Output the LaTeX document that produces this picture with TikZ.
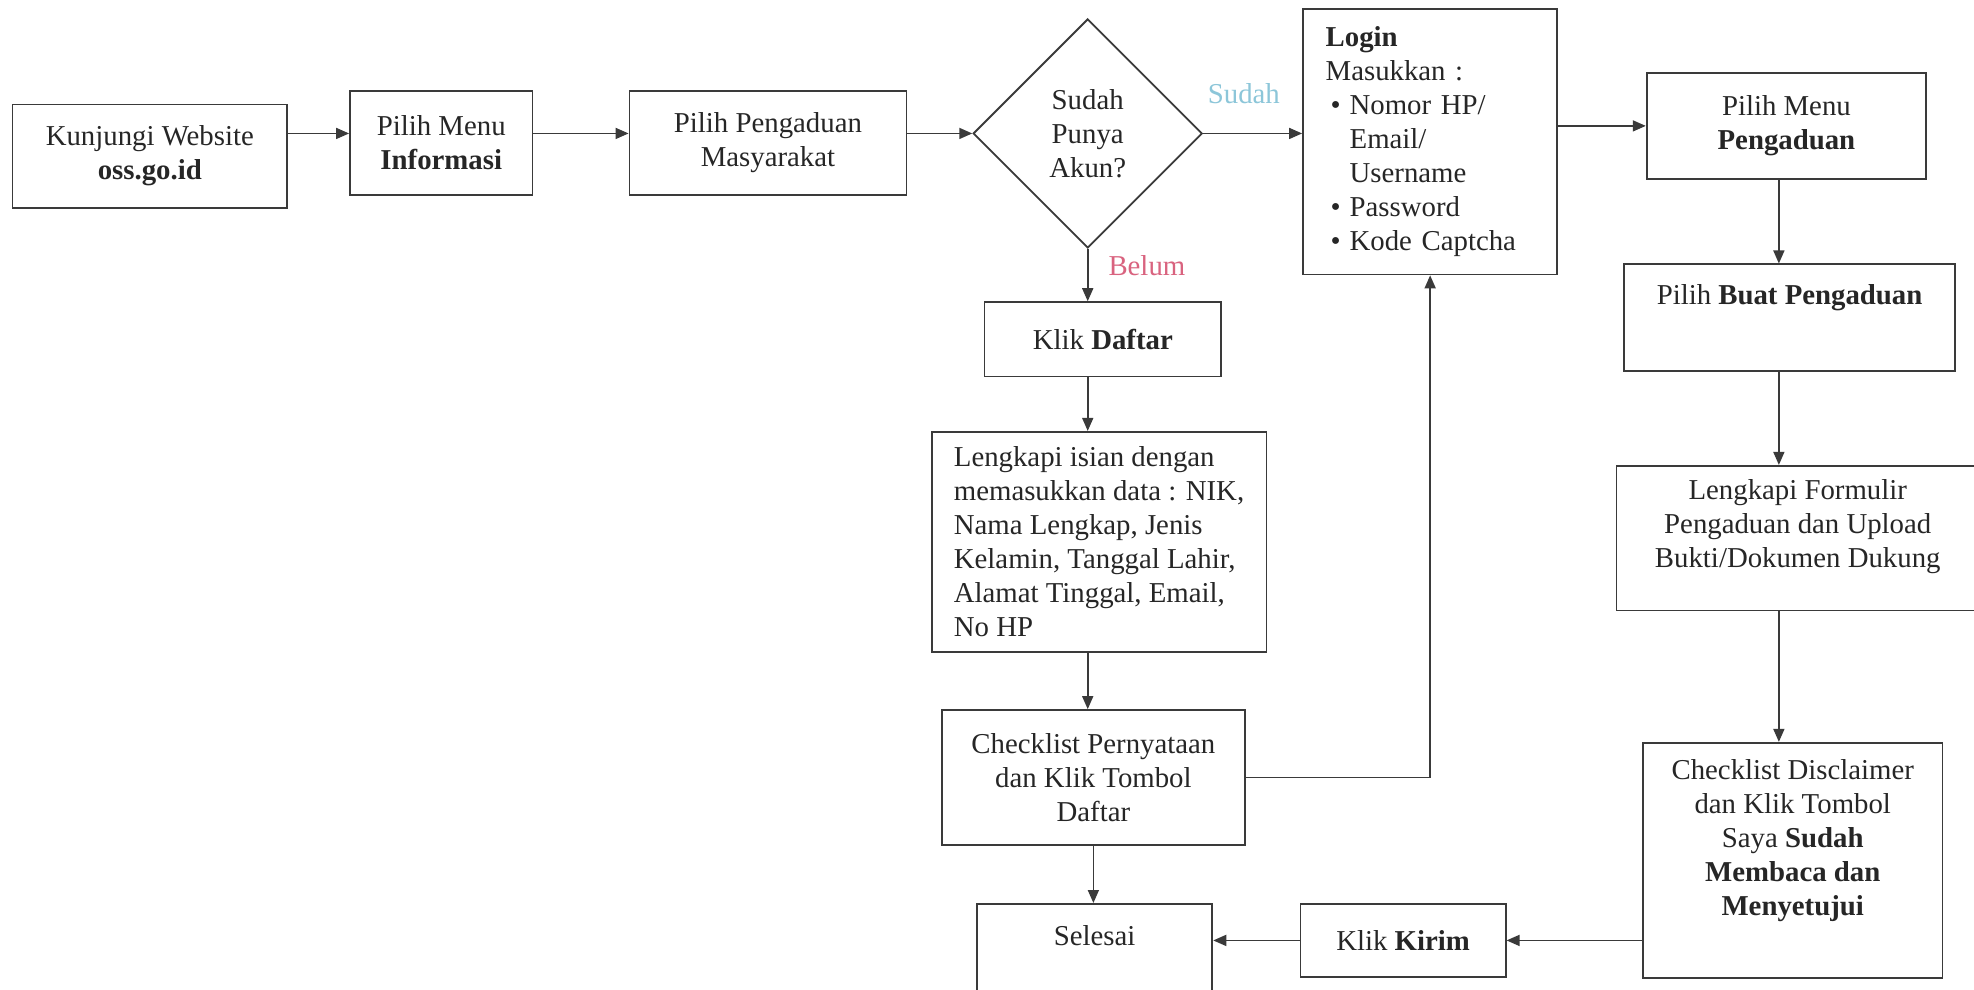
\documentclass[tikz,border=0pt]{standalone}
\usepackage{fontspec}
\setmainfont{Liberation Serif}
\usetikzlibrary{arrows.meta,shapes.geometric}
\definecolor{ln}{HTML}{3A3A3A}
\definecolor{txt}{HTML}{262626}
\definecolor{sudahc}{HTML}{8CC6D9}
\definecolor{belumc}{HTML}{D9637F}
\def\U{0.6295pt}
\newcommand\bul{\hspace*{2.5pt}\makebox[9.5pt][l]{\textbullet}}
\newcommand\bsp{\hspace*{12pt}}
\begin{document}
\begin{tikzpicture}[x=0.6295pt,y=-0.6295pt,
  every node/.style={font=\fontsize{14.4}{17}\selectfont, text=txt},
  box/.style={draw=ln, line width=0.9pt, align=center, inner sep=2pt},
  bx/.style 2 args={box, minimum width=#1*\U, minimum height=#2*\U},
  arr/.style={draw=ln, line width=0.8pt, -{Triangle[length=6.5pt,width=5.5pt]}}]
\fill[white] (0,0) rectangle (1568,785.6);
\useasboundingbox (0,0) rectangle (1568,785.6);

% top row
\node[bx={218}{82}] (n1) at (119,124) {Kunjungi Website\\\textbf{oss.go.id}};
\node[bx={145}{83}] (n2) at (350.5,113.5) {Pilih Menu\\\textbf{Informasi}};
\node[bx={220}{83}] (n3) at (610,113.5) {Pilih Pengaduan\\Masyarakat};
\node[draw=ln, line width=0.9pt, diamond, aspect=1, minimum width=182*\U,
      minimum height=182*\U, inner sep=0pt, align=center] (d) at (864,106)
      {Sudah\\Punya\\Akun?};
\node[box, align=left, minimum width=202*\U, minimum height=211*\U,
      text width=104.5pt, inner xsep=11.3pt] (login) at (1136,112.5)
      {\textbf{Login}\\Masukkan :\\\bul Nomor HP/\\\bsp Email/\\\bsp Username\\\bul Password\\\bul Kode Captcha};
\node[bx={222}{84}] (pmp) at (1419,100) {Pilih Menu\\\textbf{Pengaduan}};

% left column
\node[bx={188}{59}] (daftar) at (876,269.5) {Klik \textbf{Daftar}};
\node[box, align=left, minimum width=266*\U, minimum height=175*\U] (isian) at (873,430.5)
      {Lengkapi isian dengan\\memasukkan data : NIK,\\Nama Lengkap, Jenis\\Kelamin, Tanggal Lahir,\\Alamat Tinggal, Email,\\No HP};
\node[bx={241}{107}] (pern) at (868.5,617.5) {Checklist Pernyataan\\dan Klik Tombol\\Daftar};
\node[bx={187}{78}] (selesai) at (869.5,757) {Selesai\\[0.6pt]\mbox{}};
\node[bx={163}{58}] (kirim) at (1114.5,747) {Klik \textbf{Kirim}};

% right column
\node[bx={263}{85}] (buat) at (1421.5,252.5) {Pilih \textbf{Buat Pengaduan}\\[6.8pt]\mbox{}};
\node[bx={288}{115}] (form) at (1428,427.5) {Lengkapi Formulir\\Pengaduan dan Upload\\Bukti/Dokumen Dukung\\[-2pt]\mbox{}};
\node[bx={238}{187}] (disc) at (1424,683.5) {Checklist Disclaimer\\dan Klik Tombol\\Saya \textbf{Sudah}\\\textbf{Membaca dan}\\\textbf{Menyetujui}\\[6pt]\mbox{}};

\coordinate (rc) at (1413,0);

% labels
\node[text=sudahc] (sudah) at (988,74) {Sudah};
\node[text=belumc] (belum) at (911,211) {Belum};

% connectors
\draw[arr] (n1.east |- d) -- (n2.west |- d);
\draw[arr] (n2.east |- d) -- (n3.west |- d);
\draw[arr] (n3.east |- d) -- (d.west);
\draw[arr] (d.east) -- (login.west |- d.east);
\draw[arr] (login.east |- pmp) -- (pmp.west);
\draw[arr] (d.south) -- (d.south |- daftar.north);
\draw[arr] (d.south |- daftar.south) -- (d.south |- isian.north);
\draw[arr] (d.south |- isian.south) -- (d.south |- pern.north);
\draw[arr] (pern.south) -- (pern.south |- selesai.north);
\draw[arr] (pern.east) -| (login.south);
\draw[arr] (rc |- pmp.south) -- (rc |- buat.north);
\draw[arr] (rc |- buat.south) -- (rc |- form.north);
\draw[arr] (rc |- form.south) -- (rc |- disc.north);
\draw[arr] (disc.west |- kirim) -- (kirim.east);
\draw[arr] (kirim.west) -- (kirim.west -| selesai.east);
\end{tikzpicture}
\end{document}
